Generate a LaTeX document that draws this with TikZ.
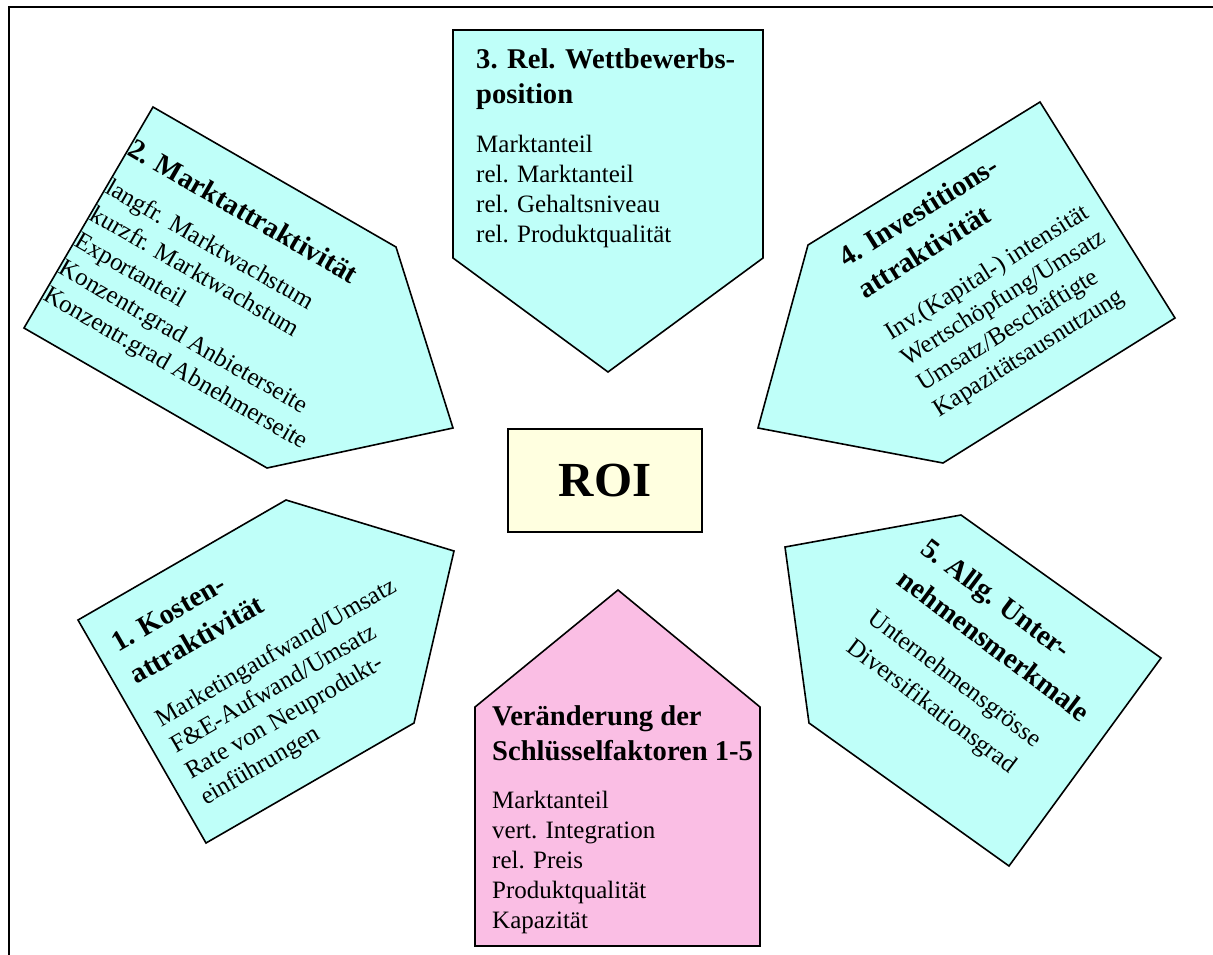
\documentclass[tikz,border=0pt]{standalone}
\usepackage{fontspec}
\setmainfont{Liberation Serif}
\definecolor{boxcyan}{RGB}{191,255,249}
\definecolor{boxpink}{RGB}{250,190,228}
\definecolor{roiyellow}{RGB}{255,255,224}
\tikzset{
  panel/.style={draw=black, line width=1.6pt, line join=miter},
  ttl/.style={font=\fontsize{28.6}{37}\selectfont\bfseries, inner sep=0pt, anchor=base west},
  itm/.style={font=\fontsize{25}{30}\selectfont, inner sep=0pt, anchor=base west},
}
\begin{document}
\begin{tikzpicture}[x=1pt,y=-1pt]
\useasboundingbox (0,0) rectangle (1213,954);
\fill[white] (0,0) rectangle (1213,954);
\draw[line width=2pt] (9,970) -- (9,7) -- (1225,7);

% ---- Box 3 (top)
\draw[panel, fill=boxcyan] (453,30) -- (763,30) -- (763,258) -- (608,372) -- (453,258) -- cycle;
\node[ttl] (t3a) at (476,68) {3. Rel. Wettbewerbs-};
\node[ttl] (t3b) at (476,103) {position};
\node[itm] (i3a) at (476,152) {Marktanteil};
\node[itm] (i3b) at (476,182) {rel. Marktanteil};
\node[itm] (i3c) at (476,212) {rel. Gehaltsniveau};
\node[itm] (i3d) at (476,242) {rel. Produktqualität};

% ---- Box 2 (upper left)
\draw[panel, fill=boxcyan] (153,107) -- (396,247) -- (453,428) -- (267,468) -- (24,328) -- cycle;
\begin{scope}[shift={(126,154)}, rotate=-30, transform shape]
\node[ttl] (t2a) at (0,0) {2. Marktattraktivität};
\node[itm] (i2a) at (0,44) {langfr. Marktwachstum};
\node[itm] (i2b) at (0,75) {kurzfr. Marktwachstum};
\node[itm] (i2c) at (0,106) {Exportanteil};
\node[itm] (i2d) at (0,137) {Konzentr.grad Anbieterseite};
\node[itm] (i2e) at (0,168) {Konzentr.grad Abnehmerseite};
\end{scope}

% ---- Box 4 (upper right)
\draw[panel, fill=boxcyan] (1040,102) -- (1175,318) -- (943,463) -- (758,428) -- (808,245) -- cycle;
\begin{scope}[shift={(846,268)}, rotate=32, transform shape]
\node[ttl] (t4a) at (0,0) {4. Investitions-};
\node[ttl] (t4b) at (0,37) {attraktivität};
\node[itm] (i4a) at (0,86) {Inv.(Kapital-) intensität};
\node[itm] (i4b) at (0,116) {Wertschöpfung/Umsatz};
\node[itm] (i4c) at (0,146) {Umsatz/Beschäftigte};
\node[itm] (i4d) at (0,176) {Kapazitätsausnutzung};
\end{scope}

% ---- Box 1 (lower left)
\draw[panel, fill=boxcyan] (286,500) -- (454,551) -- (414,723) -- (206,843) -- (78,620) -- cycle;
\begin{scope}[shift={(118,653)}, rotate=30, transform shape]
\node[ttl] (t1a) at (0,0) {1. Kosten-};
\node[ttl] (t1b) at (0,37) {attraktivität};
\node[itm] (i1a) at (0,86) {Marketingaufwand/Umsatz};
\node[itm] (i1b) at (0,116) {F\&E-Aufwand/Umsatz};
\node[itm] (i1c) at (0,146) {Rate von Neuprodukt-};
\node[itm] (i1d) at (0,176) {einführungen};
\end{scope}

% ---- Box 5 (lower right)
\draw[panel, fill=boxcyan] (785,547) -- (961,515) -- (1161,658) -- (1009,866) -- (809,723) -- cycle;
\begin{scope}[shift={(919,552)}, rotate=-37, transform shape]
\node[ttl] (t5a) at (0,0) {5. Allg. Unter-};
\node[ttl] (t5b) at (0,39) {nehmensmerkmale};
\node[itm] (i5a) at (0,87) {Unternehmensgrösse};
\node[itm] (i5b) at (0,123) {Diversifikationsgrad};
\end{scope}

% ---- Bottom (pink)
\draw[panel, fill=boxpink] (475,946) -- (475,707) -- (618,590) -- (760,707) -- (760,946) -- cycle;
\node[ttl] (t6a) at (492,725) {Veränderung der};
\node[ttl] (t6b) at (492,760) {Schlüsselfaktoren 1-5};
\node[itm] (i6a) at (492,808) {Marktanteil};
\node[itm] (i6b) at (492,838) {vert. Integration};
\node[itm] (i6c) at (492,868) {rel. Preis};
\node[itm] (i6d) at (492,898) {Produktqualität};
\node[itm] (i6e) at (492,928) {Kapazität};

% ---- ROI
\node[draw=black, line width=1.6pt, fill=roiyellow, minimum width=194pt, minimum height=103pt,
      inner sep=0pt, font=\fontsize{49}{50}\selectfont\bfseries] (roi) at (605,480.5) {ROI};
\end{tikzpicture}
\end{document}
